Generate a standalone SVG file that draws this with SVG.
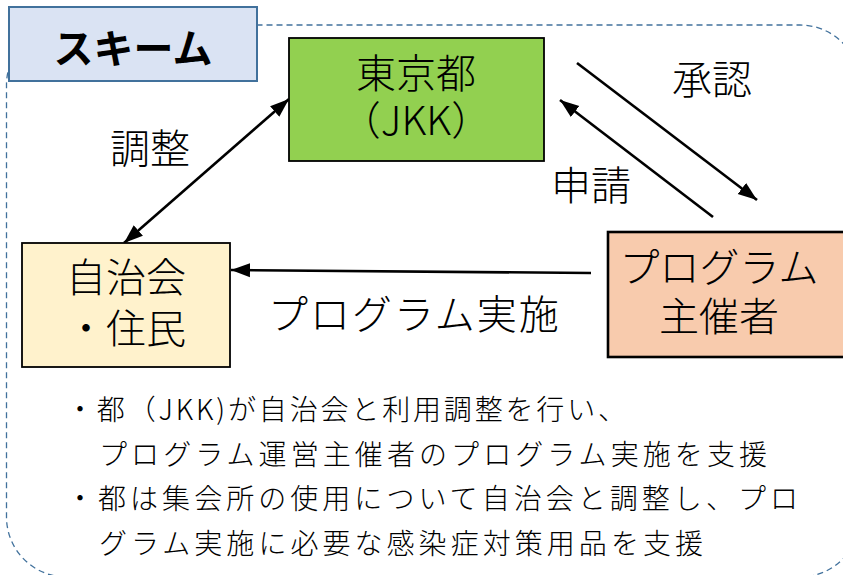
<svg xmlns="http://www.w3.org/2000/svg" width="843" height="575" viewBox="0 0 843 575">
<style>
.t{font-family:"Noto Sans CJK JP","Noto Sans",sans-serif;fill:#000;}
.n{font-size:40px;text-anchor:middle;font-weight:300;}
.lbl{font-size:40px;font-weight:300;}
.b{font-size:28px;font-weight:300;}
.box{stroke:#000;stroke-width:1.8;}
.ar{stroke:#000;stroke-width:2.6;fill:none;}
</style>
<defs>
<marker id="ah" markerUnits="userSpaceOnUse" markerWidth="20" markerHeight="16" viewBox="0 0 20 16" refX="19" refY="8" orient="auto-start-reverse">
<path d="M0,1 L19,8 L0,15 Z" fill="#000"/>
</marker>
</defs>
<rect x="6.5" y="25" width="853.5" height="552" rx="60" ry="60" fill="none" stroke="#41719C" stroke-width="1.3" stroke-dasharray="6 4"/>
<g id="title">
<rect x="9" y="7" width="248" height="74" fill="#DAE3F3" stroke="#41719C" stroke-width="2"/>
<text class="t" x="133" y="63" font-size="40" font-weight="700" text-anchor="middle">スキーム</text>
</g>
<g id="connectors">
<line class="ar" x1="124" y1="243" x2="289" y2="99" marker-start="url(#ah)" marker-end="url(#ah)"/>
<line class="ar" x1="577" y1="63" x2="757" y2="200" marker-end="url(#ah)"/>
<line class="ar" x1="713" y1="217" x2="560" y2="100" marker-end="url(#ah)"/>
<line class="ar" x1="591" y1="273" x2="231" y2="270" marker-end="url(#ah)"/>
<text class="t lbl" x="110" y="163">調整</text>
<text class="t lbl" x="672" y="94">承認</text>
<text class="t lbl" x="551" y="200">申請</text>
<text class="t lbl" x="268" y="329" letter-spacing="2">プログラム実施</text>
</g>
<g id="tokyo">
<rect class="box" x="289" y="38" width="255" height="123" fill="#92D050"/>
<text class="t n" x="416" y="88">東京都</text>
<text class="t n" x="416" y="135">（JKK）</text>
</g>
<g id="jichikai">
<rect class="box" x="22" y="243" width="208" height="124" fill="#FFF2CC"/>
<text class="t n" x="126" y="292">自治会</text>
<text class="t n" x="126" y="343">・住民</text>
</g>
<g id="organizer">
<rect x="608" y="232" width="250" height="125" fill="#F8CBAD" stroke="#000" stroke-width="2.6"/>
<text class="t n" x="719" y="282">プログラム</text>
<text class="t n" x="719" y="331">主催者</text>
</g>
<g id="notes">
<text class="t b" x="66" y="420" textLength="560" lengthAdjust="spacing">・都（JKK)が自治会と利用調整を行い、</text>
<text class="t b" x="99" y="465" textLength="668" lengthAdjust="spacing">プログラム運営主催者のプログラム実施を支援</text>
<text class="t b" x="66" y="509" textLength="732" lengthAdjust="spacing">・都は集会所の使用について自治会と調整し、プロ</text>
<text class="t b" x="99" y="554" textLength="604" lengthAdjust="spacing">グラム実施に必要な感染症対策用品を支援</text>
</g>
</svg>
